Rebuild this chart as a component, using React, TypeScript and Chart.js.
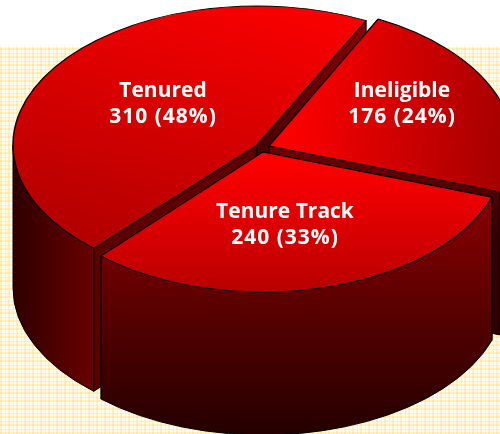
import React, { useEffect, useRef } from "react";
import { Chart, registerables } from "chart.js";

Chart.register(...registerables);

const categories = ["Tenured", "Ineligible", "Tenure Track"];
const counts = [310, 176, 240];
const percents = [48, 24, 33];

// layout of the perspective drawing (screen px)
const DEPTH = 143, R = 200, CX = 250, CY = 217;
const AX = [244, 244, 242];
const BY = [139, 142, 140];
const apexX = [257, 269, 263];
const apexY = [145, 146, 152];
const labelX = [163, 402, 285];
const labelY = [91, 91, 212];
const LINE = 26;

const toX = (i: number, sx: number) => CX + ((sx - apexX[i]) * R) / AX[i];
const toY = (i: number, sy: number) => CY + ((sy - apexY[i]) * R) / BY[i];

const topGrad: [number, number, number, number, string, string][] = [
  [350, 0, 110, 260, "#ff0000", "#b00000"],
  [285, 120, 500, 130, "#ff0000", "#a80000"],
  [260, 160, 260, 292, "#ff0000", "#b80000"],
];

function makeBackground() {
  const c = document.createElement("canvas");
  c.width = 8;
  c.height = 8;
  const g = c.getContext("2d")!;
  g.fillStyle = "#fffdf2";
  g.fillRect(0, 0, 8, 8);
  g.fillStyle = "rgba(250,222,130,0.42)";
  g.fillRect(0, 0, 2, 8);
  g.fillRect(5, 0, 1, 8);
  g.fillRect(0, 0, 8, 2);
  g.fillRect(0, 5, 8, 1);
  return c;
}

const pie3d = {
  id: "pie3d",
  beforeDraw(chart: any) {
    const { ctx, width, height } = chart;
    ctx.save();
    ctx.fillStyle = "#ffffff";
    ctx.fillRect(0, 0, width, height);
    const p = ctx.createPattern(makeBackground(), "repeat");
    ctx.fillStyle = p;
    ctx.fillRect(0, 47, width, height - 47);
    ctx.restore();
  },
  beforeDatasetDraw(chart: any) {
    const { ctx } = chart;
    const arcs = chart.getDatasetMeta(0).data;
    const TAU = Math.PI * 2;

    arcs.forEach((arc: any, i: number) => {
      const { startAngle: s, endAngle: e } = arc;
      const ax = apexX[i], ay = apexY[i], a = AX[i], b = BY[i];
      const pt = (t: number) => [ax + a * Math.cos(t), ay + b * Math.sin(t)];
      ctx.save();
      ctx.strokeStyle = "#000";
      ctx.lineWidth = 1;
      // cut faces
      [s, e].forEach((t) => {
        const [x, y] = pt(t);
        const g = ctx.createLinearGradient(0, Math.min(y, ay), 0, Math.max(y, ay) + DEPTH * 0.35);
        g.addColorStop(0, i === 1 ? "#700000" : "#8a0000");
        g.addColorStop(1, "#320000");
        ctx.fillStyle = i === 0 && t === s ? "#5c0000" : g;
        ctx.beginPath();
        ctx.moveTo(ax, ay);
        ctx.lineTo(x, y);
        ctx.lineTo(x, y + DEPTH);
        ctx.lineTo(ax, ay + DEPTH);
        ctx.closePath();
        ctx.fill();
        ctx.stroke();
      });
      // outer wall: only the part of the rim that faces the viewer
      const norm = (t: number) => ((t % TAU) + TAU) % TAU;
      let from = norm(s);
      let to = from + (e - s);
      if (from > Math.PI && to > TAU) {
        from = 0;
        to = norm(e);
      } else {
        to = Math.min(to, Math.PI);
      }
      if (to > from) {
        let g;
        if (i === 2) {
          g = ctx.createLinearGradient(0, 195, 0, 434);
          g.addColorStop(0, "#8a0000");
          g.addColorStop(1, "#240000");
        } else if (i === 0) {
          g = ctx.createLinearGradient(13, 0, 92, 0);
          g.addColorStop(0, "#2e0000");
          g.addColorStop(1, "#680000");
        } else {
          g = ctx.createLinearGradient(0, 190, 0, 340);
          g.addColorStop(0, "#6a0000");
          g.addColorStop(1, "#2a0000");
        }
        ctx.fillStyle = g;
        ctx.beginPath();
        ctx.ellipse(ax, ay, a, b, 0, from, to);
        ctx.ellipse(ax, ay + DEPTH, a, b, 0, to, from, true);
        ctx.closePath();
        ctx.fill();
        ctx.stroke();
      }
      ctx.restore();
    });

    arcs.forEach((arc: any, i: number) => {
      ctx.save();
      ctx.translate(apexX[i], apexY[i]);
      ctx.scale(AX[i] / R, BY[i] / R);
      ctx.translate(-arc.x, -arc.y);
      arc.draw(ctx);
      ctx.restore();
    });
    return false;
  },
  afterDatasetsDraw(chart: any) {
    const { ctx } = chart;
    ctx.save();
    ctx.fillStyle = "#ffffff";
    ctx.font = "700 21px 'Open Sans'";
    ctx.textAlign = "center";
    ctx.textBaseline = "middle";
    categories.forEach((name, i) => {
      ctx.letterSpacing = "0px";
      ctx.fillText(name, labelX[i], labelY[i]);
      ctx.letterSpacing = "1px";
      ctx.fillText(`${counts[i]} (${percents[i]}%)`, labelX[i], labelY[i] + LINE);
    });
    ctx.restore();
  },
};

export default function App() {
  const ref = useRef<HTMLCanvasElement>(null);
  useEffect(() => {
    document.body.style.margin = "0";
    const chart = new Chart(ref.current!, {
      type: "pie",
      data: {
        labels: categories,
        datasets: [
          {
            data: percents,
            borderColor: "#000000",
            borderWidth: 1.2,
            backgroundColor: (c: any) => {
              const i = c.dataIndex;
              if (i === undefined) return "#ff0000";
              const [x0, y0, x1, y1, a, b] = topGrad[i];
              const g = c.chart.ctx.createLinearGradient(toX(i, x0), toY(i, y0), toX(i, x1), toY(i, y1));
              g.addColorStop(0, a);
              g.addColorStop(1, b);
              return g;
            },
          },
        ],
      },
      options: {
        animation: false,
        responsive: false,
        rotation: -138,
        radius: R,
        layout: { padding: 0 },
        plugins: { legend: { display: false }, tooltip: { enabled: false } },
      },
      plugins: [pie3d],
    } as any);
    return () => chart.destroy();
  }, []);
  return <canvas ref={ref} width={500} height={434} style={{ display: "block" }} />;
}
